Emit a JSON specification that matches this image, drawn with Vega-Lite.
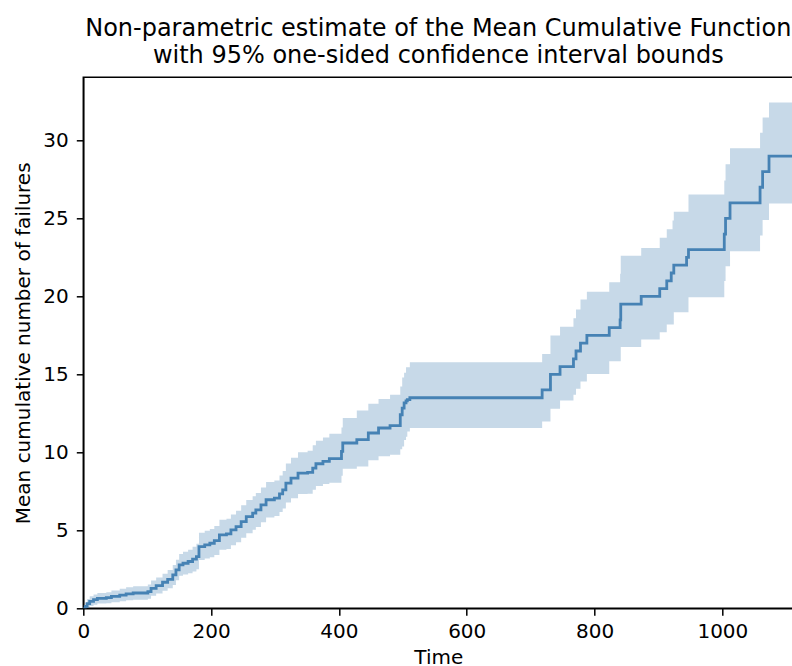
{
  "$schema": "https://vega.github.io/schema/vega-lite/v6.json",
  "width": 710,
  "height": 531,
  "autosize": {"type": "none"},
  "padding": {"left": 83.3, "top": 77.3, "right": 0, "bottom": 57.7},
  "background": "white",
  "config": {
    "view": {"stroke": "black", "strokeWidth": 1.5},
    "font": "DejaVu Sans",
    "axis": {
      "labelFont": "DejaVu Sans", "titleFont": "DejaVu Sans",
      "labelFontSize": 20, "titleFontSize": 20,
      "labelColor": "black", "titleColor": "black",
      "titleFontWeight": "normal",
      "tickColor": "black", "tickSize": 7, "tickWidth": 1.5,
      "domainColor": "black", "domainWidth": 1.5,
      "grid": false, "labelFlush": false
    }
  },
  "title": {
    "text": ["Non-parametric estimate of the Mean Cumulative Function", "with 95% one-sided confidence interval bounds"],
    "font": "DejaVu Sans", "fontSize": 24, "fontWeight": "normal", "color": "black",
    "anchor": "middle", "offset": 9, "lineHeight": 27
  },
  "data": {
    "values": [
      {"t": 0, "mcf": 0.0, "lower": 0.0, "upper": 0.0},
      {"t": 3, "mcf": 0.12, "lower": 0.0, "upper": 0.35},
      {"t": 6, "mcf": 0.3, "lower": 0.05, "upper": 0.6},
      {"t": 10, "mcf": 0.45, "lower": 0.15, "upper": 0.78},
      {"t": 16, "mcf": 0.55, "lower": 0.22, "upper": 0.88},
      {"t": 22, "mcf": 0.64, "lower": 0.3, "upper": 0.98},
      {"t": 36, "mcf": 0.68, "lower": 0.33, "upper": 1.03},
      {"t": 44, "mcf": 0.76, "lower": 0.38, "upper": 1.14},
      {"t": 57, "mcf": 0.85, "lower": 0.45, "upper": 1.25},
      {"t": 67, "mcf": 0.93, "lower": 0.52, "upper": 1.35},
      {"t": 78, "mcf": 0.98, "lower": 0.55, "upper": 1.42},
      {"t": 101, "mcf": 1.07, "lower": 0.62, "upper": 1.52},
      {"t": 106, "mcf": 1.28, "lower": 0.8, "upper": 1.78},
      {"t": 114, "mcf": 1.45, "lower": 0.95, "upper": 1.98},
      {"t": 124, "mcf": 1.67, "lower": 1.12, "upper": 2.22},
      {"t": 132, "mcf": 1.86, "lower": 1.28, "upper": 2.45},
      {"t": 140, "mcf": 2.14, "lower": 1.5, "upper": 2.78},
      {"t": 145, "mcf": 2.46, "lower": 1.8, "upper": 3.12},
      {"t": 150, "mcf": 2.78, "lower": 2.08, "upper": 3.48},
      {"t": 156, "mcf": 2.89, "lower": 2.16, "upper": 3.62},
      {"t": 164, "mcf": 3.0, "lower": 2.25, "upper": 3.75},
      {"t": 171, "mcf": 3.15, "lower": 2.36, "upper": 3.94},
      {"t": 177, "mcf": 3.32, "lower": 2.5, "upper": 4.14},
      {"t": 181, "mcf": 3.96, "lower": 3.1, "upper": 4.85},
      {"t": 190, "mcf": 4.07, "lower": 3.2, "upper": 4.98},
      {"t": 198, "mcf": 4.17, "lower": 3.28, "upper": 5.08},
      {"t": 205, "mcf": 4.34, "lower": 3.42, "upper": 5.28},
      {"t": 213, "mcf": 4.71, "lower": 3.75, "upper": 5.68},
      {"t": 224, "mcf": 4.77, "lower": 3.8, "upper": 5.75},
      {"t": 231, "mcf": 5.03, "lower": 4.05, "upper": 6.02},
      {"t": 239, "mcf": 5.24, "lower": 4.23, "upper": 6.25},
      {"t": 247, "mcf": 5.56, "lower": 4.52, "upper": 6.6},
      {"t": 255, "mcf": 5.88, "lower": 4.82, "upper": 6.94},
      {"t": 265, "mcf": 6.1, "lower": 5.03, "upper": 7.18},
      {"t": 270, "mcf": 6.31, "lower": 5.22, "upper": 7.4},
      {"t": 278, "mcf": 6.63, "lower": 5.52, "upper": 7.74},
      {"t": 286, "mcf": 6.96, "lower": 5.83, "upper": 8.1},
      {"t": 299, "mcf": 7.06, "lower": 5.92, "upper": 8.2},
      {"t": 307, "mcf": 7.34, "lower": 6.17, "upper": 8.52},
      {"t": 312, "mcf": 7.6, "lower": 6.4, "upper": 8.8},
      {"t": 317, "mcf": 8.03, "lower": 6.78, "upper": 9.28},
      {"t": 325, "mcf": 8.35, "lower": 7.05, "upper": 9.65},
      {"t": 336, "mcf": 8.67, "lower": 7.33, "upper": 10.0},
      {"t": 351, "mcf": 8.71, "lower": 7.35, "upper": 10.1},
      {"t": 359, "mcf": 8.99, "lower": 7.6, "upper": 10.45},
      {"t": 364, "mcf": 9.27, "lower": 7.85, "upper": 10.75},
      {"t": 375, "mcf": 9.42, "lower": 7.97, "upper": 10.95},
      {"t": 385, "mcf": 9.6, "lower": 8.05, "upper": 11.2},
      {"t": 404, "mcf": 10.06, "lower": 8.5, "upper": 11.6},
      {"t": 406, "mcf": 10.6, "lower": 8.95, "upper": 12.2},
      {"t": 428, "mcf": 10.81, "lower": 9.1, "upper": 12.69},
      {"t": 446, "mcf": 11.24, "lower": 9.5, "upper": 13.12},
      {"t": 462, "mcf": 11.56, "lower": 9.75, "upper": 13.42},
      {"t": 480, "mcf": 11.71, "lower": 9.85, "upper": 13.7},
      {"t": 496, "mcf": 12.41, "lower": 10.2, "upper": 14.23},
      {"t": 499, "mcf": 12.84, "lower": 10.38, "upper": 14.8},
      {"t": 502, "mcf": 13.17, "lower": 10.8, "upper": 15.1},
      {"t": 505, "mcf": 13.3, "lower": 11.0, "upper": 15.45},
      {"t": 507, "mcf": 13.38, "lower": 11.34, "upper": 15.45},
      {"t": 511, "mcf": 13.5, "lower": 11.56, "upper": 15.78},
      {"t": 718, "mcf": 14.0, "lower": 11.98, "upper": 16.3},
      {"t": 731, "mcf": 15.0, "lower": 12.8, "upper": 17.5},
      {"t": 746, "mcf": 15.5, "lower": 13.33, "upper": 18.05},
      {"t": 767, "mcf": 16.0, "lower": 13.7, "upper": 18.6},
      {"t": 771, "mcf": 16.5, "lower": 14.08, "upper": 19.16},
      {"t": 778, "mcf": 17.0, "lower": 14.55, "upper": 19.8},
      {"t": 788, "mcf": 17.5, "lower": 15.03, "upper": 20.3},
      {"t": 823, "mcf": 18.0, "lower": 15.84, "upper": 20.9},
      {"t": 840, "mcf": 18.5, "lower": 15.84, "upper": 21.45},
      {"t": 841, "mcf": 19.5, "lower": 16.76, "upper": 22.6},
      {"t": 873, "mcf": 20.0, "lower": 17.23, "upper": 23.1},
      {"t": 902, "mcf": 20.5, "lower": 17.7, "upper": 23.76},
      {"t": 913, "mcf": 21.0, "lower": 18.2, "upper": 24.3},
      {"t": 920, "mcf": 21.5, "lower": 18.2, "upper": 24.3},
      {"t": 922, "mcf": 21.5, "lower": 18.2, "upper": 24.87},
      {"t": 924, "mcf": 22.0, "lower": 18.99, "upper": 25.43},
      {"t": 944, "mcf": 22.5, "lower": 18.99, "upper": 25.43},
      {"t": 947, "mcf": 23.0, "lower": 19.95, "upper": 26.54},
      {"t": 1003, "mcf": 24.0, "lower": 20.98, "upper": 27.44},
      {"t": 1005, "mcf": 25.0, "lower": 21.94, "upper": 28.47},
      {"t": 1012, "mcf": 26.0, "lower": 22.9, "upper": 29.5},
      {"t": 1059, "mcf": 27.0, "lower": 23.9, "upper": 30.5},
      {"t": 1063, "mcf": 28.0, "lower": 24.9, "upper": 31.47},
      {"t": 1073, "mcf": 29.0, "lower": 25.95, "upper": 32.43},
      {"t": 1111, "mcf": 29.0, "lower": 25.95, "upper": 32.43}
    ]
  },
  "layer": [
    {
      "mark": {"type": "area", "interpolate": "step-after", "color": "steelblue", "opacity": 0.3, "clip": true},
      "encoding": {
        "x": {
          "field": "t", "type": "quantitative",
          "scale": {"domain": [0, 1111], "nice": false, "zero": false},
          "axis": {"title": "Time", "values": [0, 200, 400, 600, 800, 1000], "format": "d", "labelPadding": 6, "titlePadding": 6}
        },
        "y": {
          "field": "lower", "type": "quantitative",
          "scale": {"domain": [0, 34.05], "nice": false, "zero": false},
          "axis": {"title": "Mean cumulative number of failures", "values": [0, 5, 10, 15, 20, 25, 30], "labelPadding": 8, "titlePadding": 9}
        },
        "y2": {"field": "upper"}
      }
    },
    {
      "mark": {"type": "line", "interpolate": "step-after", "color": "steelblue", "strokeWidth": 2.8, "clip": true},
      "encoding": {
        "x": {"field": "t", "type": "quantitative"},
        "y": {"field": "mcf", "type": "quantitative"}
      }
    }
  ]
}
